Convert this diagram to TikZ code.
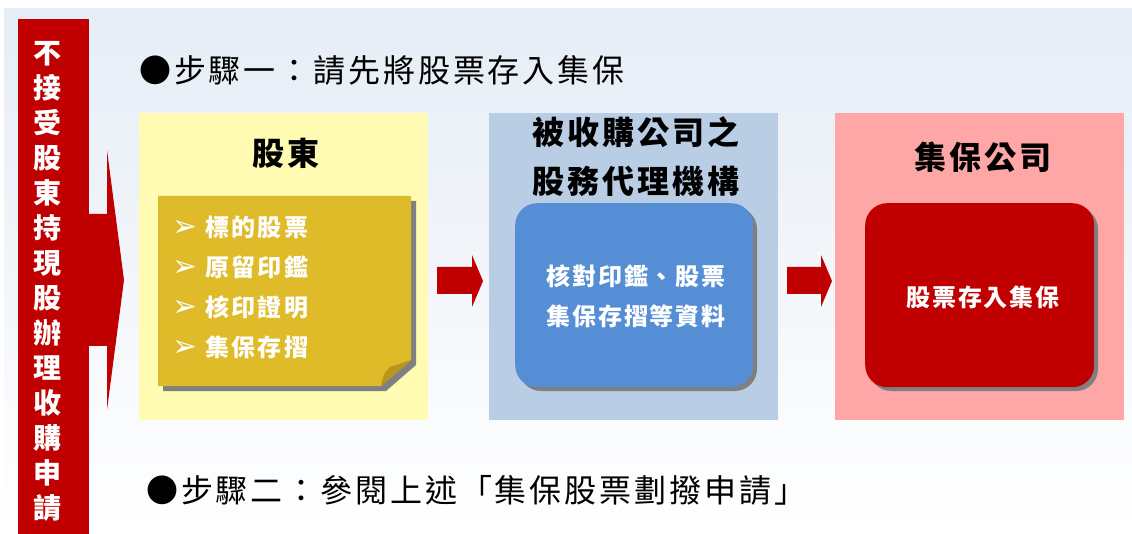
\documentclass[tikz,border=0pt]{standalone}
\usepackage{fontspec}
\newfontfamily\cjk{Noto Sans CJK TC}
\newfontfamily\dv{DejaVu Sans}
\definecolor{barred}{HTML}{C00000}
\definecolor{ylw}{HTML}{FFFBB3}
\definecolor{gold}{HTML}{DFBB2A}
\definecolor{golddk}{HTML}{B8961E}
\definecolor{ltblue}{HTML}{B9CDE5}
\definecolor{midblue}{HTML}{558ED5}
\definecolor{pinkbg}{HTML}{FFA6A6}
\definecolor{shd}{HTML}{808080}
\definecolor{bgtop}{HTML}{E6EDF6}
\begin{document}
\begin{tikzpicture}[x=1pt,y=-1pt,
  stepline/.style={anchor=west,inner sep=0pt,text=black,
    font=\cjk\fontsize{32}{38}\selectfont\addfontfeature{LetterSpace=9}},
  titletxt/.style={inner sep=0pt,align=center,text=black,
    font=\cjk\bfseries\fontsize{32}{49}\selectfont\addfontfeature{LetterSpace=9}},
  whitetxt/.style={inner sep=0pt,align=center,text=white,
    font=\cjk\bfseries\fontsize{24}{40}\selectfont\addfontfeature{LetterSpace=8}},
  itemtxt/.style={anchor=west,inner sep=0pt,text=white,
    font=\cjk\bfseries\fontsize{24}{30}\selectfont\addfontfeature{LetterSpace=10}},
  markr/.style={inner sep=0pt,text=white,font=\dv\fontsize{30}{34}\selectfont},
  panel/.style={anchor=north west,inner sep=0pt,minimum width=289pt,minimum height=307pt},
  blockarrow/.style={fill=barred},
]
\useasboundingbox (0,0) rectangle (1132,534);
% background
\shade[top color=bgtop, bottom color=white] (4,9) rectangle (1132,534);

% left bar and big arrow
\fill[barred] (18,19) rectangle (89,534);
\fill[blockarrow] (89,214) -- (107,214) -- (107,150) -- (124,280) -- (107,410) -- (107,346) -- (89,346) -- cycle;
\node[inner sep=0pt,align=center,text=white,
  font=\cjk\bfseries\fontsize{28}{35}\selectfont] (vert) at (47,281)
  {不\\接\\受\\股\\東\\持\\現\\股\\辦\\理\\收\\購\\申\\請};

% step lines
\node[stepline] (s1) at (139,70) {●步驟一：請先將股票存入集保};
\node[stepline] (s2) at (146,490) {●步驟二：參閱上述「集保股票劃撥申請」};

% panels
\node[panel,fill=ylw] (py) at (139,113) {};
\node[panel,fill=ltblue] (pb) at (489,113) {};
\node[panel,fill=pinkbg] (pp) at (835,113) {};

% titles
\node[titletxt] (ty) at (286,153) {股東};
\node[titletxt] (tb) at (636,157) {被收購公司之\\股務代理機構};
\node[titletxt] (tp) at (983,157) {集保公司};

% gold note with shadow and fold
\fill[shd] (163,201) -- (416,201) -- (416,365) -- (386,391) -- (163,391) -- cycle;
\fill[gold] (158,196) -- (411,196) -- (411,360) -- (381,386) -- (158,386) -- cycle;
\fill[golddk] (381,386) .. controls (384,373) .. (390,367) -- (411,360) -- cycle;
\node[markr] (m1) at (185,229) {➢};
\node[markr] (m2) at (185,269) {➢};
\node[markr] (m3) at (185,309) {➢};
\node[markr] (m4) at (185,349) {➢};
\node[itemtxt] (i1) at (205,227) {標的股票};
\node[itemtxt] (i2) at (205,267) {原留印鑑};
\node[itemtxt] (i3) at (205,307) {核印證明};
\node[itemtxt] (i4) at (205,347) {集保存摺};

% inner rounded boxes with shadows
\fill[shd,rounded corners=22pt] (519,207) rectangle (757,391);
\node[anchor=north west,inner sep=0pt,minimum width=238pt,minimum height=184pt,
  fill=midblue,rounded corners=22pt] (bb) at (515,203) {};
\node[whitetxt] (bt) at (636,296) {核對印鑑、股票\\集保存摺等資料};

\fill[shd,rounded corners=22pt] (869,207) rectangle (1098,391);
\node[anchor=north west,inner sep=0pt,minimum width=229pt,minimum height=184pt,
  fill=barred,rounded corners=22pt] (rb) at (865,203) {};
\node[whitetxt] (rt) at (983,297) {股票存入集保};

% block arrows between panels
\fill[blockarrow] (437,267) -- (472,267) -- (472,255) -- (483,281) -- (472,307) -- (472,294) -- (437,294) -- cycle;
\fill[blockarrow] (787,267) -- (821,267) -- (821,255) -- (832,281) -- (821,307) -- (821,294) -- (787,294) -- cycle;
\end{tikzpicture}
\end{document}
